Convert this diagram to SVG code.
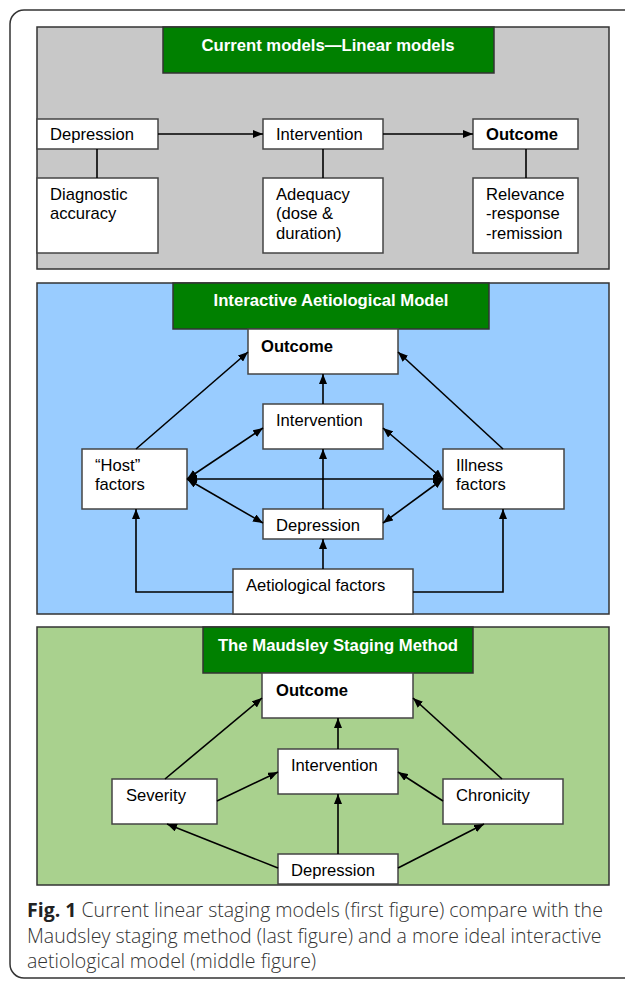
<svg xmlns="http://www.w3.org/2000/svg" width="625" height="982" viewBox="0 0 625 982">
<defs>
<style>
.frame{fill:#fff;stroke:#333;stroke-width:1.5}
.panel{stroke:#333;stroke-width:1.5}
.title{fill:#008000;stroke:#333;stroke-width:1.5}
.box{fill:#fff;stroke:#444;stroke-width:1.5}
.t{font-family:"Liberation Sans",Arial,sans-serif;font-size:16.6px;fill:#000}
.b{font-weight:bold}
.tt{font-family:"Liberation Sans",Arial,sans-serif;font-size:16.7px;font-weight:bold;fill:#fff;text-anchor:middle}
.c{stroke:#000;stroke-width:1.6;fill:none}
.cap{font-family:"Open Sans",sans-serif;font-size:19.5px;font-weight:300;fill:#333}
</style>
<marker id="ah" viewBox="0 0 10 8" refX="10" refY="4" markerWidth="10" markerHeight="8" markerUnits="userSpaceOnUse" orient="auto-start-reverse">
<path d="M0,0 L10,4 L0,8 z" fill="#000"/>
</marker>
</defs>
<rect class="frame" x="10" y="10" width="640" height="968" rx="14"/>

<!-- Panel 1 -->
<g id="panel-linear">
<rect class="panel" x="37" y="27" width="572" height="242" fill="#C8C8C8"/>
</g>
<g id="title-linear">
<rect class="title" x="163" y="27" width="331" height="46"/>
<text class="tt" x="328" y="51">Current models—Linear models</text>
</g>
<g id="l-depression">
<rect class="box" x="37" y="119" width="121" height="30"/>
<text class="t" x="50" y="140">Depression</text>
</g>
<g id="l-intervention">
<rect class="box" x="263" y="119" width="120" height="30"/>
<text class="t" x="276" y="140">Intervention</text>
</g>
<g id="l-outcome">
<rect class="box" x="473" y="119" width="105" height="30"/>
<text class="t b" x="486" y="140">Outcome</text>
</g>
<g id="l-diagnostic">
<rect class="box" x="37" y="178" width="121" height="75"/>
<text class="t" x="50" y="200">Diagnostic</text>
<text class="t" x="50" y="219">accuracy</text>
</g>
<g id="l-adequacy">
<rect class="box" x="263" y="178" width="120" height="75"/>
<text class="t" x="276" y="200">Adequacy</text>
<text class="t" x="276" y="219">(dose &amp;</text>
<text class="t" x="276" y="239">duration)</text>
</g>
<g id="l-relevance">
<rect class="box" x="473" y="178" width="105" height="75"/>
<text class="t" x="486" y="200">Relevance</text>
<text class="t" x="486" y="219">-response</text>
<text class="t" x="486" y="239">-remission</text>
</g>

<!-- Panel 2 -->
<g id="panel-interactive">
<rect class="panel" x="37" y="283" width="572" height="331" fill="#99CCFF"/>
</g>
<g id="title-interactive">
<rect class="title" x="173" y="283" width="316" height="46"/>
<text class="tt" x="331" y="306">Interactive Aetiological Model</text>
</g>
<g id="i-outcome">
<rect class="box" x="248" y="329" width="150" height="45"/>
<text class="t b" x="261" y="352">Outcome</text>
</g>
<g id="i-intervention">
<rect class="box" x="263" y="404" width="120" height="45"/>
<text class="t" x="276" y="426">Intervention</text>
</g>
<g id="i-host">
<rect class="box" x="82" y="449" width="105" height="60"/>
<text class="t" x="95" y="471">“Host”</text>
<text class="t" x="95" y="490">factors</text>
</g>
<g id="i-illness">
<rect class="box" x="443" y="449" width="121" height="60"/>
<text class="t" x="456" y="471">Illness</text>
<text class="t" x="456" y="490">factors</text>
</g>
<g id="i-depression">
<rect class="box" x="263" y="509" width="120" height="30"/>
<text class="t" x="276" y="531">Depression</text>
</g>
<g id="i-aetiological">
<rect class="box" x="233" y="569" width="180" height="45"/>
<text class="t" x="246" y="591">Aetiological factors</text>
</g>

<!-- Panel 3 -->
<g id="panel-maudsley">
<rect class="panel" x="37" y="627" width="572" height="258" fill="#A9D18E"/>
</g>
<g id="title-maudsley">
<rect class="title" x="203" y="627" width="270" height="46"/>
<text class="tt" x="338" y="651">The Maudsley Staging Method</text>
</g>
<g id="m-outcome">
<rect class="box" x="262" y="673" width="151" height="45"/>
<text class="t b" x="276" y="696">Outcome</text>
</g>
<g id="m-intervention">
<rect class="box" x="278" y="749" width="120" height="45"/>
<text class="t" x="291" y="771">Intervention</text>
</g>
<g id="m-severity">
<rect class="box" x="112" y="779" width="105" height="45"/>
<text class="t" x="126" y="801">Severity</text>
</g>
<g id="m-chronicity">
<rect class="box" x="443" y="779" width="120" height="45"/>
<text class="t" x="456" y="801">Chronicity</text>
</g>
<g id="m-depression">
<rect class="box" x="278" y="854" width="120" height="30"/>
<text class="t" x="291" y="876">Depression</text>
</g>

<g id="connectors">
<!-- panel 1 -->
<line class="c" x1="158" y1="134" x2="263" y2="134" marker-end="url(#ah)"/>
<line class="c" x1="383" y1="134" x2="473" y2="134" marker-end="url(#ah)"/>
<line class="c" x1="97" y1="149" x2="97" y2="178"/>
<line class="c" x1="323" y1="149" x2="323" y2="178"/>
<line class="c" x1="526" y1="149" x2="526" y2="178"/>
<!-- panel 2 -->
<line class="c" x1="136" y1="449" x2="248" y2="352" marker-end="url(#ah)"/>
<line class="c" x1="503" y1="449" x2="398" y2="352" marker-end="url(#ah)"/>
<line class="c" x1="323" y1="404" x2="323" y2="374" marker-end="url(#ah)"/>
<line class="c" x1="323" y1="509" x2="323" y2="449" marker-end="url(#ah)"/>
<line class="c" x1="323" y1="569" x2="323" y2="539" marker-end="url(#ah)"/>
<line class="c" x1="187" y1="479" x2="443" y2="479" marker-start="url(#ah)" marker-end="url(#ah)"/>
<line class="c" x1="187" y1="479" x2="263" y2="428" marker-start="url(#ah)" marker-end="url(#ah)"/>
<line class="c" x1="187" y1="479" x2="263" y2="523" marker-start="url(#ah)" marker-end="url(#ah)"/>
<line class="c" x1="443" y1="479" x2="383" y2="428" marker-start="url(#ah)" marker-end="url(#ah)"/>
<line class="c" x1="443" y1="479" x2="383" y2="523" marker-start="url(#ah)" marker-end="url(#ah)"/>
<polyline class="c" points="233,592 136,592 136,509" marker-end="url(#ah)"/>
<polyline class="c" points="413,592 503,592 503,509" marker-end="url(#ah)"/>
<!-- panel 3 -->
<line class="c" x1="165" y1="779" x2="262" y2="698" marker-end="url(#ah)"/>
<line class="c" x1="502" y1="779" x2="413" y2="698" marker-end="url(#ah)"/>
<line class="c" x1="338" y1="749" x2="338" y2="718" marker-end="url(#ah)"/>
<line class="c" x1="217" y1="801" x2="278" y2="772" marker-end="url(#ah)"/>
<line class="c" x1="443" y1="801" x2="398" y2="772" marker-end="url(#ah)"/>
<line class="c" x1="338" y1="854" x2="338" y2="794" marker-end="url(#ah)"/>
<line class="c" x1="278" y1="868" x2="167" y2="824" marker-end="url(#ah)"/>
<line class="c" x1="398" y1="868" x2="484" y2="824" marker-end="url(#ah)"/>
</g>

<g id="caption">
<text class="cap" x="27" y="917"><tspan font-weight="bold" fill="#222">Fig. 1</tspan> Current linear staging models (first figure) compare with the</text>
<text class="cap" x="27" y="943">Maudsley staging method (last figure) and a more ideal interactive</text>
<text class="cap" x="27" y="968">aetiological model (middle figure)</text>
</g>
</svg>
